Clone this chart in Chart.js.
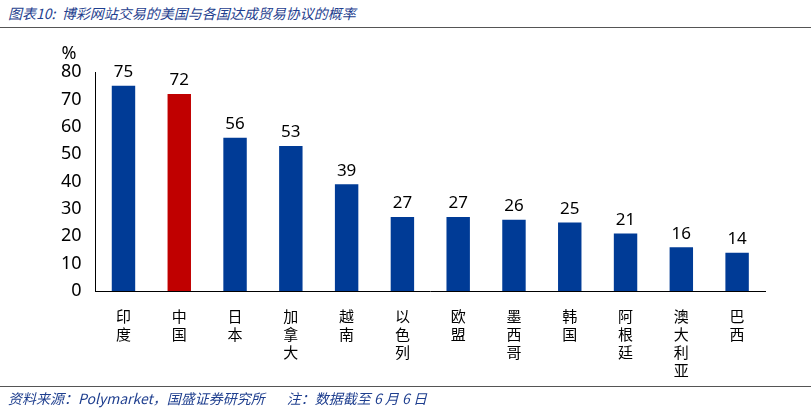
<!DOCTYPE html>
<html><head><meta charset="utf-8">
<script src="https://cdn.jsdelivr.net/npm/chart.js@4"></script>
<style>
body{margin:0;width:811px;height:413px;background:#fff;position:relative;font-family:"Noto Sans CJK SC",sans-serif;overflow:hidden}
#title{position:absolute;left:8px;top:3px;font-size:14px;font-style:italic;color:#1f3f8f}
#tl{position:absolute;left:0;top:27px;width:811px;height:1px;background:#555}
#bl{position:absolute;left:0;top:386px;width:811px;height:1px;background:#555}
#src{position:absolute;left:8px;top:388px;font-size:14px;font-style:italic;color:#1f3f8f}
#wrap{position:absolute;left:55px;top:42px;width:720px;height:345px}
</style></head><body>
<div id="title">图表10:&nbsp; 博彩网站交易的美国与各国达成贸易协议的概率</div>
<div id="tl"></div>
<div id="wrap"><canvas id="c"></canvas></div>
<div id="bl"></div>
<div id="src">资料来源：Polymarket，国盛证券研究所 &nbsp;&nbsp;&nbsp;&nbsp;&nbsp;&nbsp;注：数据截至 6 月 6 日</div>
<script>
const categories=["印度","中国","日本","加拿大","越南","以色列","欧盟","墨西哥","韩国","阿根廷","澳大利亚","巴西"];
const values=[75,72,56,53,39,27,27,26,25,21,16,14];
const yTicks=[0,10,20,30,40,50,60,70,80];
const colors=categories.map(c=>c==="中国"?"#c00000":"#003b96");
const labelPlugin={id:"lbl",afterDatasetsDraw(ch){const ctx=ch.ctx;const m=ch.getDatasetMeta(0);ctx.save();ctx.font="17px 'Noto Sans',sans-serif";ctx.fillStyle="#000";ctx.textAlign="center";ctx.textBaseline="bottom";m.data.forEach((b,i)=>ctx.fillText(values[i],b.x,b.y-5));
ctx.font="18px 'Noto Sans',sans-serif";ctx.fillText("%",ch.scales.y.left+14,ch.scales.y.top-9);ctx.restore();}};
new Chart(document.getElementById("c"),{type:"bar",
data:{labels:categories.map(c=>c.split("")),datasets:[{data:values,backgroundColor:colors,barPercentage:0.42,categoryPercentage:1}]},
options:{responsive:true,maintainAspectRatio:false,animation:false,
layout:{padding:{top:30,right:10}},
plugins:{legend:{display:false},tooltip:{enabled:false}},
scales:{x:{grid:{display:false,drawTicks:true},border:{color:"#000"},ticks:{color:"#000",font:{size:15,family:"Noto Sans CJK SC"},maxRotation:0,autoSkip:false,padding:8}},
y:{min:0,max:80,afterBuildTicks:a=>{a.ticks=yTicks.map(v=>({value:v}))},grid:{display:false,drawTicks:true},border:{color:"#000"},ticks:{color:"#000",font:{size:18,family:"Noto Sans"},padding:6}}}},
plugins:[labelPlugin]});
</script></body></html>
